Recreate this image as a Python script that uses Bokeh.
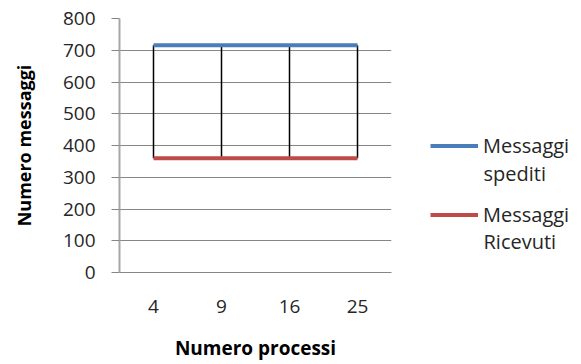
from bokeh.plotting import figure
from bokeh.models import FactorRange, Range1d, Legend, LegendItem, ColumnDataSource, Label
from bokeh.layouts import row
from bokeh.embed import file_html
from bokeh.resources import INLINE

categories = ["4", "9", "16", "25"]
spediti = [716, 716, 716, 716]
ricevuti = [360, 360, 360, 360]
y_ticks = [0, 100, 200, 300, 400, 500, 600, 700, 800]
series_names = [("Messaggi", "spediti"), ("Messaggi", "Ricevuti")]
colors = ["#4a7ebb", "#be4b48"]

FONT = "Open Sans"
GRID = "#868686"
TXT = "#262626"

src = ColumnDataSource(dict(x=categories, s=spediti, r=ricevuti))

p = figure(width=400, height=364, x_range=FactorRange(*categories), y_range=Range1d(0, 800),
           output_backend="svg", toolbar_location=None,
           min_border_left=119, min_border_right=9, min_border_top=18, min_border_bottom=92)
p.outline_line_color = None
p.background_fill_color = "white"
p.border_fill_color = "white"

# high-low lines
p.segment(x0="x", y0="r", x1="x", y1="s", source=src, line_color="black", line_width=1.5)
p.line(x="x", y="s", source=src, line_color=colors[0], line_width=4)
p.line(x="x", y="r", source=src, line_color=colors[1], line_width=4)

p.xgrid.grid_line_color = None
p.ygrid.grid_line_color = GRID
p.ygrid.grid_line_width = 1
p.yaxis.ticker = y_ticks
p.yaxis.minor_tick_line_color = None
p.yaxis.major_tick_in = 0
p.yaxis.major_tick_out = 8
p.yaxis.major_tick_line_color = GRID
p.yaxis.axis_line_color = "#a6a6a6"
p.yaxis.axis_line_width = 2
p.yaxis.major_label_standoff = 16
p.yaxis.major_label_text_font = FONT
p.yaxis.major_label_text_font_size = "19px"
p.yaxis.major_label_text_color = TXT
p.yaxis.axis_label = "Numero messaggi"
p.yaxis.axis_label_text_font = FONT
p.yaxis.axis_label_text_font_style = "bold"
p.yaxis.axis_label_text_font_size = "18px"
p.yaxis.axis_label_text_color = "black"
p.yaxis.axis_label_standoff = 24

p.xaxis.major_tick_line_color = None
p.xaxis.minor_tick_line_color = None
p.xaxis.axis_line_color = GRID
p.xaxis.axis_line_width = 1
p.xaxis.major_label_standoff = 21
p.xaxis.major_label_text_font = FONT
p.xaxis.major_label_text_font_size = "19px"
p.xaxis.major_label_text_color = TXT
p.xaxis.axis_label = "Numero processi"
p.xaxis.axis_label_text_font = FONT
p.xaxis.axis_label_text_font_style = "bold"
p.xaxis.axis_label_text_font_size = "19px"
p.xaxis.axis_label_text_color = "black"
p.xaxis.axis_label_standoff = 19

# legend panel (separate figure; its swatch renderers lie outside its visible range)
lp = figure(width=181, height=364, x_range=FactorRange(*categories), y_range=Range1d(5000, 6000),
            output_backend="svg", toolbar_location=None, min_border=0)
lp.axis.visible = False
lp.grid.visible = False
lp.outline_line_color = None
lp.background_fill_color = "white"
lp.border_fill_color = "white"
r1 = lp.line(x=categories, y=spediti, line_color=colors[0], line_width=4)
r2 = lp.line(x=categories, y=ricevuti, line_color=colors[1], line_width=4)

legend = Legend(items=[LegendItem(label=series_names[0][0], renderers=[r1]),
                       LegendItem(label=series_names[1][0], renderers=[r2])],
                location=(30, 44), orientation="vertical")
legend.padding = 0
legend.margin = 0
legend.border_line_color = None
legend.background_fill_alpha = 0
legend.glyph_width = 48
legend.glyph_height = 27
legend.label_height = 27
legend.label_standoff = 5
legend.spacing = 42
legend.label_text_font = FONT
legend.label_text_font_size = "20px"
legend.label_text_color = TXT
lp.add_layout(legend)

for name, ypos in ((series_names[0][1], 99), (series_names[1][1], 31)):
    lp.add_layout(Label(x=83, y=ypos, x_units="screen", y_units="screen", text=name,
                        text_font=FONT, text_font_size="20px", text_color=TXT,
                        text_align="left", text_baseline="middle"))

layout = row(p, lp, spacing=0)
open("out.html", "w").write(file_html(layout, INLINE))
